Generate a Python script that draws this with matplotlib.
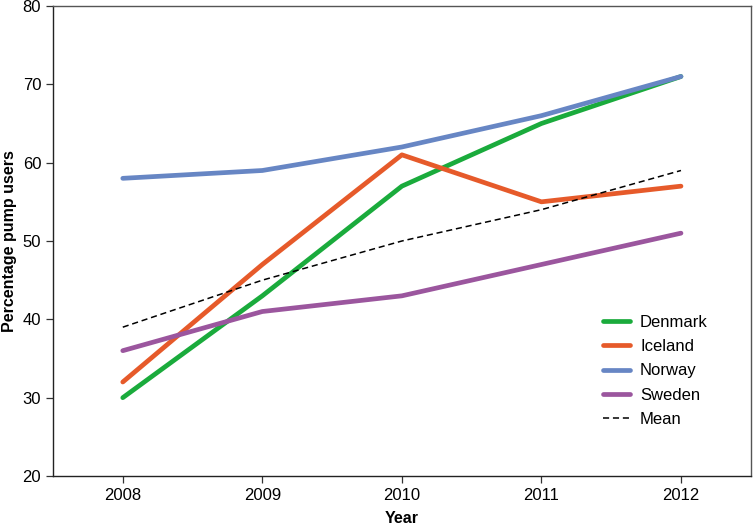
import matplotlib
matplotlib.use("Agg")
import matplotlib.pyplot as plt

plt.rcParams['font.family'] = ['Liberation Sans', 'DejaVu Sans']

# dados
years = [2008, 2009, 2010, 2011, 2012]
denmark = [30, 43, 57, 65, 71]
iceland = [32, 47, 61, 55, 57]
norway = [58, 59, 62, 66, 71]
sweden = [36, 41, 43, 47, 51]
mean = [39, 45, 50, 54, 59]

series = [
    ("Denmark", denmark, "#1aab3c"),
    ("Iceland", iceland, "#e65a2a"),
    ("Norway", norway, "#6786c4"),
    ("Sweden", sweden, "#9b569e"),
]

fig = plt.figure(figsize=(7.53, 5.25), dpi=100)
ax = fig.add_axes([0.0704, 0.0933, 0.9266, 0.8953])

for nome, vals, cor in series:
    ax.plot(years, vals, color=cor, lw=3.4, label=nome, solid_capstyle='round')
ax.plot(years, mean, color="black", lw=1.1, ls=(0, (4, 2.5)), label="Mean")

ax.set_xlim(2007.5, 2012.5)
ax.set_ylim(20, 80)
ax.set_xticks(years)
ax.set_yticks([20, 30, 40, 50, 60, 70, 80])
ax.tick_params(labelsize=12, length=5, width=0.9, color="#333333")
for s in ax.spines.values():
    s.set_color("#555555")
    s.set_linewidth(1.0)
ax.spines['left'].set_color("#222222")
ax.spines['bottom'].set_color("#222222")

ax.set_xlabel("Year", fontsize=11.5, fontweight="bold", labelpad=6)
ax.set_ylabel("Percentage pump users", fontsize=11.5, fontweight="bold")
# rotulo y quase encostado na borda esquerda
ax.yaxis.set_label_coords(-0.051, 0.5)

ax.legend(loc="lower right", bbox_to_anchor=(0.96, 0.073), frameon=False,
          fontsize=12, handlelength=1.6, handletextpad=0.6, labelspacing=0.55)

fig.savefig("out.png", dpi=100)
